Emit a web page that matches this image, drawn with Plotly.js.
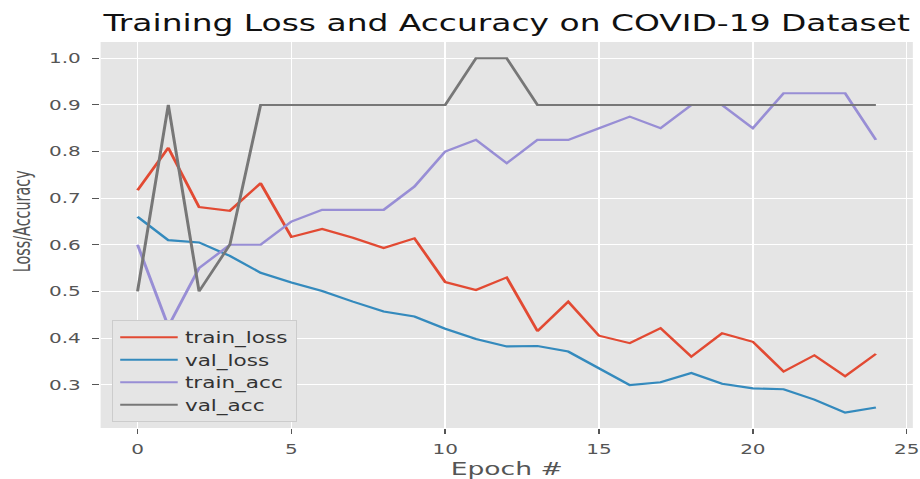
<!DOCTYPE html>
<html>
<head>
<meta charset="utf-8">
<script src="https://cdn.plot.ly/plotly-3.0.1.min.js"></script>
<style>
  html, body { margin: 0; padding: 0; overflow: hidden; background: #ffffff; }
  #wrap { width: 640px; height: 479px; transform: scaleX(1.4375); transform-origin: 0 0; }
</style>
</head>
<body>
<div id="wrap"><div id="plot"></div></div>
<script>
const epochs = [0,1,2,3,4,5,6,7,8,9,10,11,12,13,14,15,16,17,18,19,20,21,22,23,24];
const trainLoss = [0.717,0.808,0.681,0.673,0.732,0.617,0.634,0.615,0.593,0.614,0.520,0.503,0.530,0.415,0.478,0.405,0.389,0.421,0.360,0.410,0.392,0.328,0.363,0.318,0.366];
const valLoss = [0.660,0.610,0.605,0.576,0.540,0.519,0.501,0.478,0.457,0.446,0.420,0.398,0.382,0.383,0.371,0.335,0.299,0.305,0.325,0.302,0.292,0.290,0.268,0.240,0.251];
const trainAcc = [0.600,0.425,0.550,0.600,0.600,0.650,0.675,0.675,0.675,0.725,0.800,0.825,0.775,0.825,0.825,0.850,0.875,0.850,0.900,0.900,0.850,0.925,0.925,0.925,0.825];
const valAcc = [0.5,0.9,0.5,0.6,0.9,0.9,0.9,0.9,0.9,0.9,0.9,1.0,1.0,0.9,0.9,0.9,0.9,0.9,0.9,0.9,0.9,0.9,0.9,0.9,0.9];
const seriesNames = ["train_loss","val_loss","train_acc","val_acc"];
const xTicks = [0,5,10,15,20,25];
const yTicks = [0.3,0.4,0.5,0.6,0.7,0.8,0.9,1.0];
const yTickText = ["0.3","0.4","0.5","0.6","0.7","0.8","0.9","1.0"];

const colors = ["#E24A33","#348ABD","#988ED5","#777777"];
const values = [trainLoss, valLoss, trainAcc, valAcc];
const traces = values.map((v, i) => ({
  x: epochs, y: v, type: "scatter", mode: "lines", name: seriesNames[i],
  line: { color: colors[i], width: 2.1 }
}));

const font = "DejaVu Sans, Verdana, sans-serif";
const layout = {
  width: 640, height: 479,
  margin: { l: 70, r: 5, t: 42, b: 51 },
  paper_bgcolor: "#ffffff", plot_bgcolor: "#E5E5E5",
  font: { family: font, color: "#555555" },
  title: { text: "Training Loss and Accuracy on COVID-19 Dataset",
           font: { family: font, size: 22.9, color: "#111111" },
           x: 0.5, xref: "paper", xanchor: "center", y: 0.951, yref: "container", yanchor: "middle" },
  xaxis: { range: [-1.2, 25.2], tickvals: xTicks, ticks: "outside", ticklen: 5, tickwidth: 1, tickcolor: "#555555",
           showgrid: true, gridcolor: "#ffffff", gridwidth: 1, zeroline: false, showline: false,
           tickfont: { family: font, size: 13.9, color: "#555555" }, ticklabelstandoff: 3,
           title: { text: "Epoch #", font: { family: font, size: 18.5, color: "#555555" }, standoff: 6 } },
  yaxis: { range: [0.207, 1.035], tickvals: yTicks, ticktext: yTickText, ticks: "outside", ticklen: 5, tickwidth: 1, tickcolor: "#555555",
           showgrid: true, gridcolor: "#ffffff", gridwidth: 1, zeroline: false, showline: false,
           tickfont: { family: font, size: 13.9, color: "#555555" }, ticklabelstandoff: 5 },
  annotations: [{ text: "Loss/Accuracy", textangle: -90, xref: "paper", yref: "paper", x: -0.097, y: 0.536,
                  xanchor: "center", yanchor: "middle", showarrow: false,
                  font: { family: "Liberation Sans Narrow, DejaVu Sans Condensed, sans-serif", size: 16, color: "#555555" } }],
  showlegend: true,
  legend: { x: 0.0135, y: 0.0155, xanchor: "left", yanchor: "bottom", bgcolor: "#E5E5E5", bordercolor: "#cccccc", borderwidth: 1,
            font: { family: font, size: 15, color: "#333333" }, itemwidth: 40 }
};
Plotly.newPlot("plot", traces, layout, { staticPlot: true, displayModeBar: false });
</script>
</body>
</html>
